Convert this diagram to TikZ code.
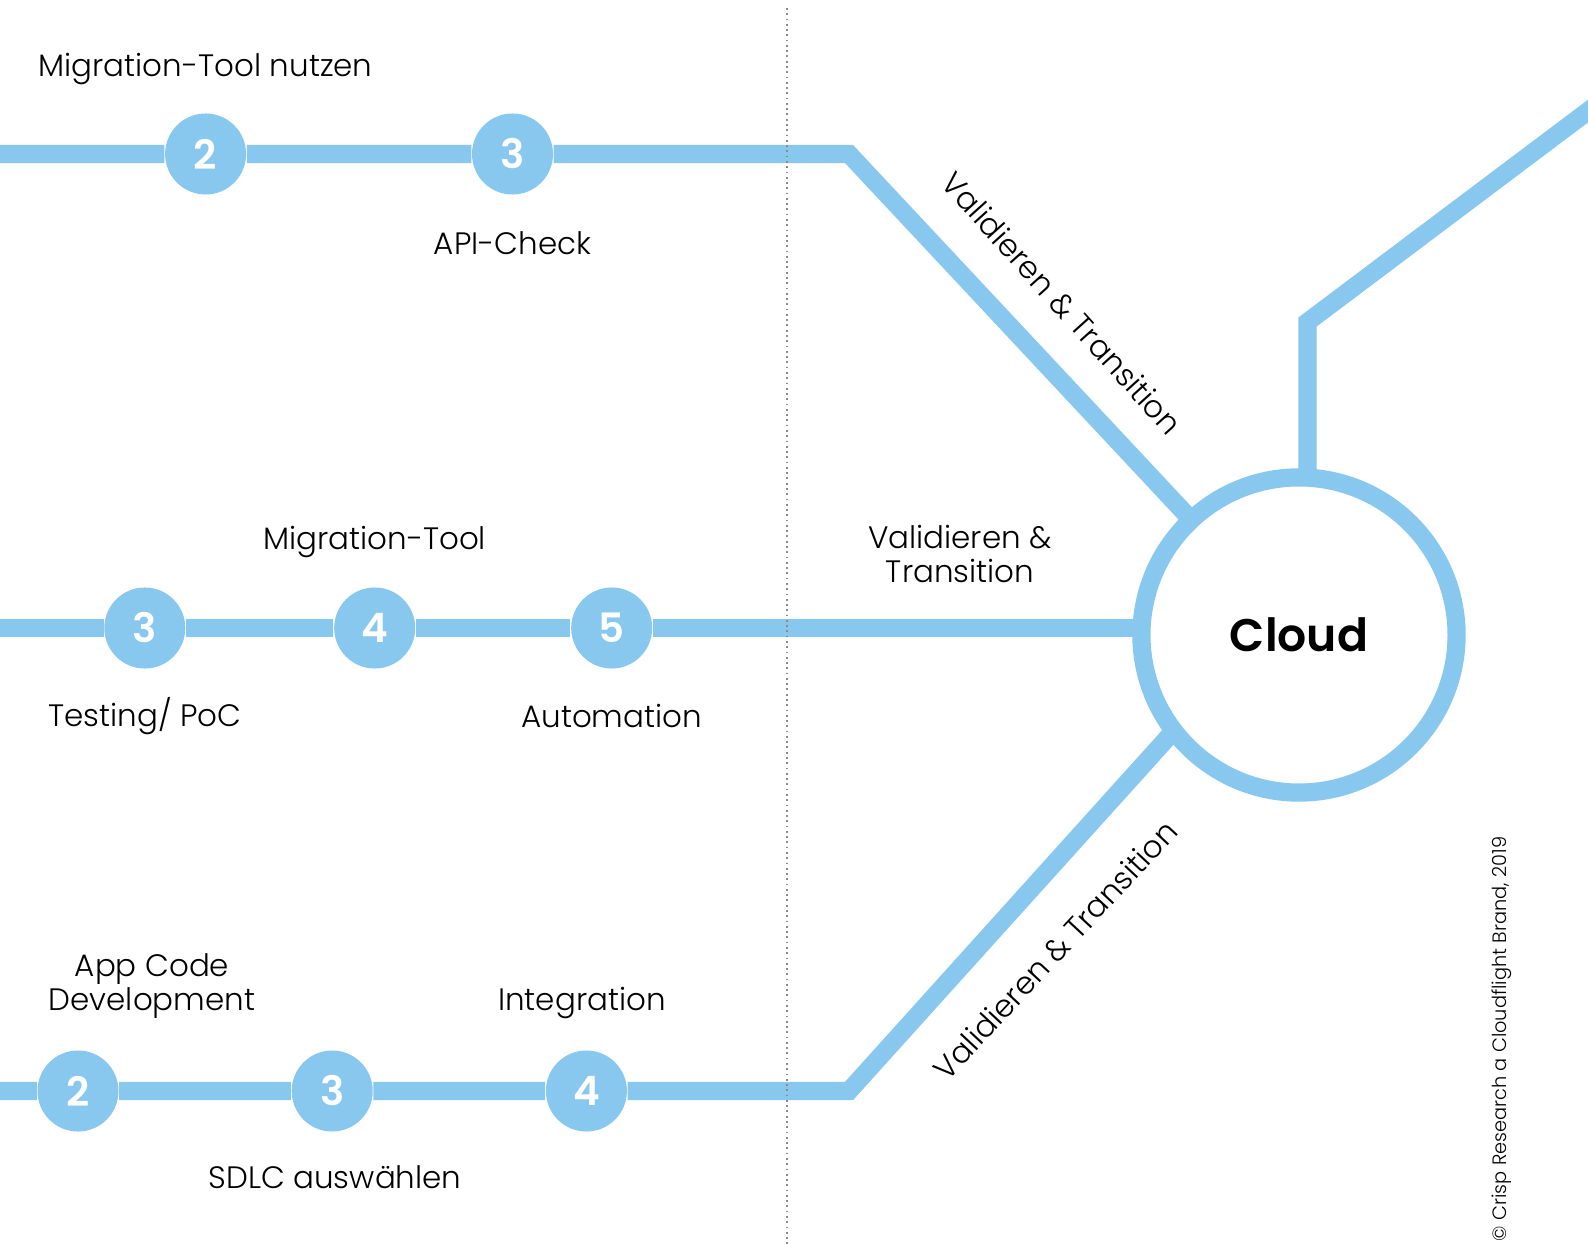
\documentclass[tikz,border=0pt]{standalone}
\usepackage{fontspec}
\setmainfont{Poppins}[UprightFont=* Light,BoldFont=* SemiBold]
\usetikzlibrary{positioning,backgrounds}
\definecolor{metro}{HTML}{88C8EE}
\definecolor{dotgray}{HTML}{8A8A8A}

\begin{document}
\begin{tikzpicture}[x=0.01cm,y=-0.01cm,
    track/.style={draw=metro,line width=0.182cm},
    station/.style={circle,fill=metro,minimum size=0.81cm,inner sep=0pt,text=white,font=\fontsize{11.5}{11.5}\selectfont\bfseries},
    caption/.style={font=\fontsize{8.8}{9.5}\selectfont,align=center,inner sep=0pt},
    hub/.style={circle,draw=metro,fill=white,line width=0.182cm,minimum size=3.15cm,inner sep=0pt,font=\fontsize{13}{13}\selectfont\bfseries}]
  \useasboundingbox (0,0) rectangle (1588,1246);

  % cloud
  \node[hub] (cloud) at (1299,635) {Cloud};

  % stations
  \node[station] (t2) at (205.6,154) {2};
  \node[station] (t3) at (512.5,154) {3};
  \node[station] (m3) at (144.8,628) {3};
  \node[station] (m4) at (374.7,628) {4};
  \node[station] (m5) at (611.7,628) {5};
  \node[station] (b2) at (78,1091) {2};
  \node[station] (b3) at (332.2,1091) {3};
  \node[station] (b4) at (586.4,1091) {4};

  % ends and bends
  \coordinate (tstart) at (-20,154);
  \coordinate (tbend) at (849,154);
  \coordinate (mstart) at (-20,628);
  \coordinate (bstart) at (-20,1091);
  \coordinate (bbend) at (849,1091);
  \coordinate (bjoin) at (1299,592);
  \coordinate (ubend) at (1307.5,322);
  \coordinate (uend) at (1640,72);

  \begin{scope}[on background layer]
    \draw[track] (tstart) -- (t2) -- (t3) -- (tbend) -- (cloud.center);
    \draw[track] (mstart) -- (m3) -- (m4) -- (m5) -- (cloud.center |- m5);
    \draw[track] (bstart) -- (b2) -- (b3) -- (b4) -- (bbend) -- (bjoin);
    \draw[track] (cloud.center -| ubend) -- (ubend) -- (uend);
  \end{scope}

  % dotted divider
  \coordinate (dtop) at (787,8);
  \coordinate (dbot) at (787,1250);
  \draw[dotgray,line width=0.5pt,dash pattern=on 0.5pt off 1pt] (dtop) -- (dbot);

  % captions
  \node[caption] (tc2) at (205.6,69) {Migration-Tool nutzen};
  \node[caption] (tc3) at (512.5,243) {API-Check};
  \node[caption] (mc4) at (374.7,542) {Migration-Tool};
  \node[caption] (mc3) at (144.8,716) {Testing/ PoC};
  \node[caption] (mc5) at (611.7,716) {Automation};
  \node[caption] (bc2) at (152,986) {App Code\\Development};
  \node[caption] (bc4) at (582,1003) {Integration};
  \node[caption] (bc3) at (335,1177) {SDLC auswählen};
  \node[caption] (mv) at (960,554) {Validieren \&\\Transition};
  \node[caption,rotate=-48] (tv) at (1062,303) {Validieren \& Transition};
  \node[caption,rotate=47] (bv) at (1055,950) {Validieren \& Transition};
  \node[caption,font=\fontsize{5.5}{5.5}\selectfont,rotate=90] (copy) at (1502,1039) {© Crisp Research a Cloudflight Brand, 2019};
\end{tikzpicture}
\end{document}
